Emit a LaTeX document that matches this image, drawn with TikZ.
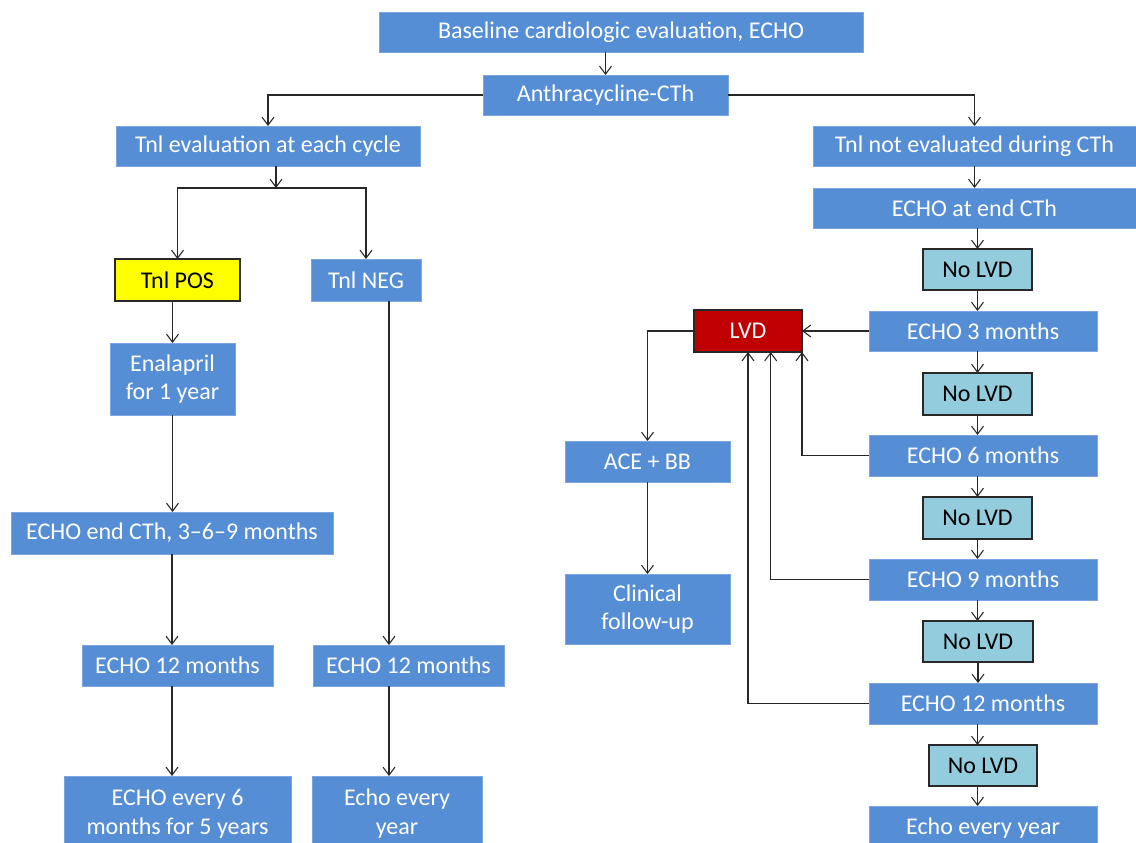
\documentclass[tikz,border=0pt]{standalone}
\usepackage{fontspec}
\setmainfont{Carlito}
\usetikzlibrary{arrows.meta,calc}
\definecolor{bblue}{RGB}{85,142,213}
\definecolor{bborder}{RGB}{125,165,225}
\definecolor{lvdred}{RGB}{192,0,0}
\definecolor{nolvd}{RGB}{147,205,221}
\definecolor{tyellow}{RGB}{255,255,0}
\definecolor{linec}{RGB}{40,40,40}
\newcommand{\bx}[7]{\node[#6, minimum width={0.75pt*(#4-#2)}, minimum height={0.75pt*(#5-#3)}] (#1) at ({(#2+#4)/2},{(#3+#5)/2}) {#7};}
\begin{document}
\begin{tikzpicture}[x=0.75pt,y=-0.75pt,
  every node/.style={font=\fontsize{18pt}{21.6pt}\selectfont, inner sep=0pt, outer sep=0pt, align=center},
  bluebox/.style={fill=bblue, draw=bborder, line width=0.6pt, text=white},
  posbox/.style={fill=tyellow, draw=linec, line width=1pt, text=black},
  redbox/.style={fill=lvdred, draw=linec, line width=1pt, text=white},
  nobox/.style={fill=nolvd, draw=linec, line width=1pt, text=black},
  arr/.style={draw=linec, line width=0.8pt, -{Straight Barb[length=6pt,width=9pt,line width=0.8pt]}},
  ln/.style={draw=linec, line width=0.8pt}]
\useasboundingbox (0,0) rectangle (1136,843);
% top
\bx{base}{379}{12}{863}{52}{bluebox}{Baseline cardiologic evaluation, ECHO}
\bx{anth}{483}{75}{728}{115}{bluebox}{Anthracycline-CTh}
\bx{tnle}{116}{126}{420}{166}{bluebox}{Tnl evaluation at each cycle}
\bx{tnln}{813}{126}{1136}{166}{bluebox}{Tnl not evaluated during CTh}
% left branch
\bx{tpos}{115}{259}{240}{301}{posbox}{Tnl POS}
\bx{tneg}{311}{259}{421}{301}{bluebox}{Tnl NEG}
\bx{enal}{110}{343}{235}{415}{bluebox}{Enalapril\\for 1 year}
\bx{eend}{11}{512}{333}{554}{bluebox}{ECHO end CTh, 3–6–9 months}
\bx{etl}{82}{645}{273}{686}{bluebox}{ECHO 12 months}
\bx{esix}{64}{776}{291}{851}{bluebox}{ECHO every 6\\months for 5 years}
\bx{etm}{313}{645}{504}{686}{bluebox}{ECHO 12 months}
\bx{eym}{312}{776}{482}{851}{bluebox}{Echo every\\year}
% right branch
\bx{eendr}{813}{188}{1136}{228}{bluebox}{ECHO at end CTh}
\bx{nla}{923}{249}{1032}{290}{nobox}{No LVD}
\bx{ethree}{869}{311}{1097}{351}{bluebox}{ECHO 3 months}
\bx{lvd}{694}{310}{802}{352}{redbox}{LVD}
\bx{nlb}{923}{373}{1032}{415}{nobox}{No LVD}
\bx{esixr}{869}{435}{1097}{476}{bluebox}{ECHO 6 months}
\bx{nlc}{923}{497}{1032}{539}{nobox}{No LVD}
\bx{enine}{869}{559}{1097}{600}{bluebox}{ECHO 9 months}
\bx{nld}{923}{621}{1033}{662}{nobox}{No LVD}
\bx{etwr}{869}{683}{1097}{724}{bluebox}{ECHO 12 months}
\bx{nle}{929}{745}{1037}{786}{nobox}{No LVD}
\bx{eyr}{869}{806}{1097}{850}{bluebox}{Echo every year}
\bx{ace}{565}{441}{730}{482}{bluebox}{ACE + BB}
\bx{clin}{565}{574}{730}{644}{bluebox}{Clinical\\follow-up}
% coordinates
\coordinate (br) at (276,188);
% connectors top
\draw[arr] (base.south -| anth.north) -- (anth.north);
\draw[arr] (anth.west) -| (tnle.north);
\draw[arr] (anth.east) -| (tnln.north);
% left
\draw[arr] (tnle.south -| br) -- (br);
\draw[arr] (br) -| (tpos.north);
\draw[arr] (br) -| (tneg.north);
\draw[arr] (tpos.south -| enal.north) -- (enal.north);
\draw[arr] (enal.south) -- (enal.south |- eend.north);
\draw[arr] (eend.south) -- (eend.south |- etl.north);
\draw[arr] (eend.south |- etl.south) -- (eend.south |- esix.north);
\draw[arr] ([xshift=17.25pt]tneg.south) -- ([xshift=17.25pt]tneg.south |- etm.north);
\draw[arr] ([xshift=17.25pt]tneg.south |- etm.south) -- ([xshift=17.25pt]tneg.south |- eym.north);
% right
\draw[arr] (tnln.south) -- (eendr.north);
\draw[arr] (eendr.south -| nla.north) -- (nla.north);
\draw[arr] (nla.south) -- (nla.south |- ethree.north);
\draw[arr] (ethree.south -| nla.south) -- (nlb.north);
\draw[arr] (nlb.south) -- (nlb.south |- esixr.north);
\draw[arr] (esixr.south -| nlb.south) -- (nlc.north);
\draw[arr] (nlc.south) -- (nlc.south |- enine.north);
\draw[arr] (enine.south -| nlc.south) -- (nld.north -| nlc.south);
\draw[arr] (nld.south) -- (nld.south |- etwr.north);
\draw[arr] (etwr.south -| nlc.south) -- (nle.north -| nlc.south);
\draw[arr] (nle.south -| nlc.south) -- (eyr.north -| nlc.south);
% to LVD
\draw[arr] (ethree.west) -- (lvd.east);
\draw[arr] (esixr.west) -| (lvd.south east);
\draw[arr] (enine.west) -| ($(lvd.south)!0.42!(lvd.south east)$);
\draw[arr] (etwr.west) -| (lvd.south);
\draw[arr] (lvd.west) -| (ace.north);
\draw[arr] (ace.south) -- (clin.north);
\end{tikzpicture}
\end{document}
